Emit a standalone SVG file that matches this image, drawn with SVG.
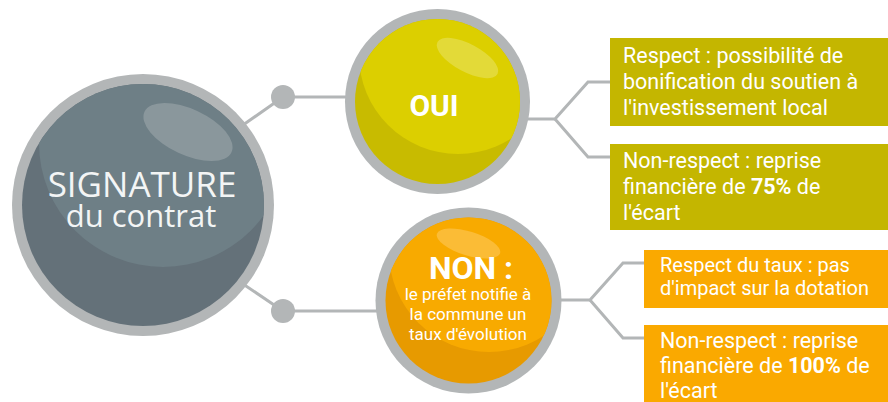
<svg xmlns="http://www.w3.org/2000/svg" width="888" height="402" viewBox="0 0 888 402">
<defs>
<style>
.ring{fill:#b3b6b7}
.conn{fill:none;stroke:#b3b6b7;stroke-width:3}
.dot{fill:#b3b6b7}
.t{font-family:Roboto,"Liberation Sans",sans-serif;fill:#ffffff}
.b{font-weight:bold}
.sig{font-family:"Open Sans","Liberation Sans",sans-serif;fill:#f3f5f5;text-anchor:middle}
</style>
<clipPath id="cSig"><circle cx="143" cy="205" r="121"/></clipPath>
<clipPath id="cOui"><circle cx="437.5" cy="101.5" r="82.5"/></clipPath>
<clipPath id="cNon"><circle cx="468.5" cy="300.5" r="83"/></clipPath>
</defs>
<rect width="888" height="402" fill="#ffffff"/>
<g id="connectors">
<polyline class="conn" points="243,125 283,97 350,97"/>
<polyline class="conn" points="243,284 283,311 380,311"/>
<polyline class="conn" points="528,119 555,119 588,82 612,82"/>
<polyline class="conn" points="555,119 588,157 612,157"/>
<polyline class="conn" points="560,300 590,300 623,263 646,263"/>
<polyline class="conn" points="590,300 623,338 646,338"/>
<circle class="dot" cx="283" cy="97" r="12"/>
<circle class="dot" cx="283" cy="311" r="12"/>
</g>
<g id="signature">
<circle class="ring" cx="143" cy="205" r="131"/>
<circle cx="143" cy="205" r="121" fill="#647179"/>
<g clip-path="url(#cSig)">
<circle cx="163" cy="143" r="124" fill="#6e7f86"/>
<ellipse cx="188" cy="132" rx="48" ry="23" transform="rotate(25 188 132)" fill="#8a979c"/>
</g>
<text class="sig" x="142" y="197" font-size="35">SIGNATURE</text>
<text class="sig" x="141" y="227" font-size="31">du contrat</text>
</g>
<g id="oui">
<circle class="ring" cx="437.5" cy="101.5" r="92.5"/>
<circle cx="437.5" cy="101.5" r="82.5" fill="#c8bb00"/>
<g clip-path="url(#cOui)">
<circle cx="458" cy="55" r="99" fill="#dccf00"/>
<ellipse cx="467.5" cy="58" rx="34" ry="14" transform="rotate(28 467.5 58)" fill="#e3da38"/>
</g>
<text class="t b" x="434" y="116" font-size="30" text-anchor="middle">OUI</text>
</g>
<g id="non">
<circle class="ring" cx="468.5" cy="300.5" r="93"/>
<circle cx="468.5" cy="300.5" r="83" fill="#e79a00"/>
<g clip-path="url(#cNon)">
<circle cx="489" cy="252" r="100" fill="#f8aa00"/>
<ellipse cx="468.5" cy="243.5" rx="33" ry="12" transform="rotate(17 468.5 243.5)" fill="#fbbc36"/>
</g>
<text class="t b" x="471" y="279" font-size="32" text-anchor="middle">NON :</text>
<text class="t" x="468" y="300" font-size="17" text-anchor="middle">le préfet notifie à</text>
<text class="t" x="468" y="320" font-size="17" text-anchor="middle">la commune un</text>
<text class="t" x="468" y="340" font-size="17" text-anchor="middle">taux d'évolution</text>
</g>
<g id="oui-respect">
<rect x="610" y="38" width="278" height="88" fill="#c4b600"/>
<text class="t" font-size="21.5"><tspan x="623" y="63">Respect : possibilité de</tspan><tspan x="623" y="89">bonification du soutien à</tspan><tspan x="623" y="115">l'investissement local</tspan></text>
</g>
<g id="oui-nonrespect">
<rect x="610" y="144" width="278" height="86" fill="#c4b600"/>
<text class="t" font-size="21.5"><tspan x="623" y="168">Non-respect : reprise</tspan><tspan x="623" y="194">financière de <tspan class="b">75%</tspan> de</tspan><tspan x="623" y="220">l'écart</tspan></text>
</g>
<g id="non-respect">
<rect x="644" y="250" width="244" height="58" fill="#faa900"/>
<text class="t" font-size="20"><tspan x="660" y="272">Respect du taux : pas</tspan><tspan x="660" y="295">d'impact sur la dotation</tspan></text>
</g>
<g id="non-nonrespect">
<rect x="644" y="325" width="244" height="77" fill="#faa900"/>
<text class="t" font-size="21.5"><tspan x="660" y="348">Non-respect : reprise</tspan><tspan x="660" y="373">financière de <tspan class="b">100%</tspan> de</tspan><tspan x="660" y="398">l'écart</tspan></text>
</g>
</svg>
